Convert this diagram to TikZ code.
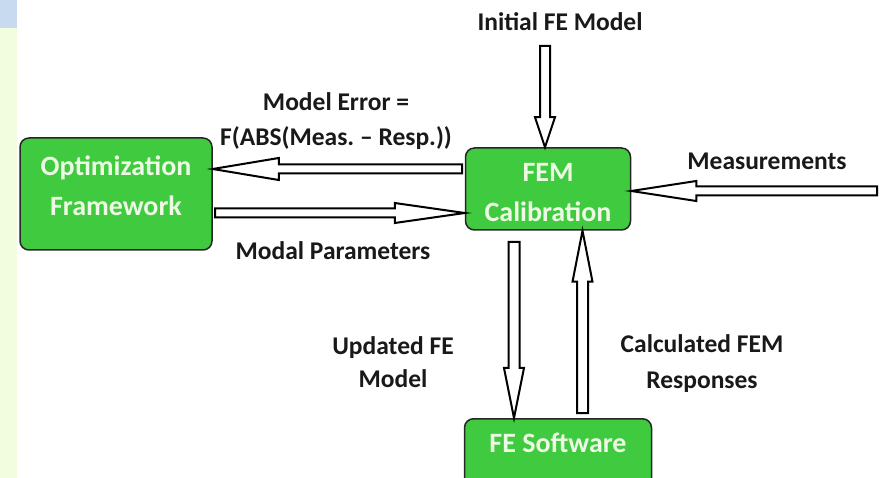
\documentclass[tikz,border=0pt]{standalone}
\usepackage{fontspec}
\setmainfont{Carlito}
\usetikzlibrary{calc}
\definecolor{boxgreen}{RGB}{64,202,64}
\definecolor{boxtext}{RGB}{236,250,228}
\definecolor{stripblue}{RGB}{200,218,240}
\definecolor{stripyellow}{RGB}{242,252,222}
\tikzset{
  gbox/.style={draw=black!85, line width=1.5pt, fill=boxgreen, rounded corners=9pt,
    text=boxtext, font=\bfseries\fontsize{28}{40}\selectfont, inner sep=0pt},
  lbl/.style={font=\bfseries\fontsize{25.5}{34}\selectfont, align=center, text=black!90, inner sep=0pt},
  barrow/.style={draw=black, line width=2pt, fill=white, line join=miter}
}
\newcommand\boxlines[2]{\raisebox{#1}[0pt][0pt]{\begin{tabular}{@{}c@{}}#2\end{tabular}}}
\newcommand\blockarrow[5]{%
  \draw[barrow] let \p1=(#1), \p2=(#2), \n1={atan2(\y2-\y1,\x2-\x1)},
    \n2={veclen(\x2-\x1,\y2-\y1)-#5} in
    ($(\p1)+(\n1+90:#3pt)$) -- ($(\p1)+(\n1:\n2)+(\n1+90:#3pt)$)
    -- ($(\p1)+(\n1:\n2)+(\n1+90:#4pt)$) -- (\p2)
    -- ($(\p1)+(\n1:\n2)+(\n1-90:#4pt)$) -- ($(\p1)+(\n1:\n2)+(\n1-90:#3pt)$)
    -- ($(\p1)+(\n1-90:#3pt)$) -- cycle;}
\frenchspacing
\begin{document}
\begin{tikzpicture}[x=1pt,y=-1pt]
\clip (0,0) rectangle (884,478);
\fill[white] (0,0) rectangle (884,478);
\fill[stripblue] (0,0) rectangle (17,28);
\fill[stripyellow] (0,28) rectangle (17,478);

% boxes
\node[gbox, minimum width=192pt, minimum height=112pt] (opt) at (116,194) {\boxlines{0pt}{Optimization\\Framework}};
\node[gbox, minimum width=165pt, minimum height=82pt] (fem) at (548,189) {\boxlines{-11pt}{FEM\\Calibration}};
\node[gbox, anchor=north, minimum width=187pt, text height=34pt, text depth=60pt] (fesw) at (558,418) {FE Software};

% labels
\node[lbl] (init) at (560,22) {Initial FE Model};
\node[lbl, font=\bfseries\fontsize{25.5}{35}\selectfont] (err) at (336,121) {Model Error =\\F(ABS(Meas.\ – Resp.))};
\node[lbl] (modal) at (333,251) {Modal Parameters};
\node[lbl] (meas) at (767,161) {Measurements};
\node[lbl, font=\bfseries\fontsize{25.5}{33}\selectfont] (upd) at (393,362) {Updated FE\\Model};
\node[lbl, font=\bfseries\fontsize{25.5}{36}\selectfont] (calcr) at (702,364) {Calculated FEM\\Responses};

% free ends
\coordinate (initS) at (545,46);
\coordinate (measS) at (877,191);
\coordinate (modalS) at (215,213);
\coordinate (errS) at (462,169);
\coordinate (updS) at (514,242);
\coordinate (calcS) at (582.5,413);

% arrows
\blockarrow{initS}{initS |- fem.north}{5}{10}{30}
\blockarrow{errS}{errS -| opt.east}{4.5}{11}{66}
\blockarrow{modalS}{modalS -| fem.west}{4.5}{10}{70}
\blockarrow{measS}{measS -| fem.east}{4.5}{10}{65}
\blockarrow{updS}{updS |- fesw.north}{5.5}{10}{50}
\blockarrow{calcS}{calcS |- fem.south}{5.5}{10}{51}
\end{tikzpicture}
\end{document}
